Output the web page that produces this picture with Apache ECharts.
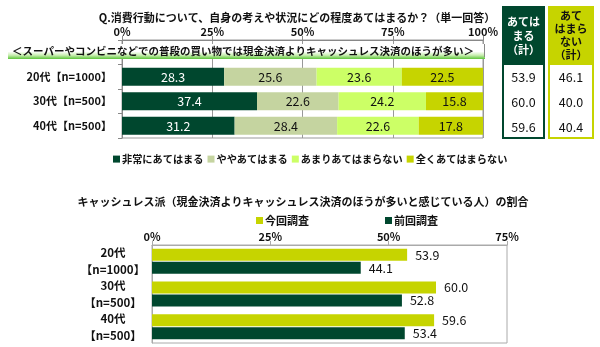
<!DOCTYPE html>
<html><head><meta charset="utf-8">
<script src="https://cdn.jsdelivr.net/npm/echarts@6/dist/echarts.min.js"></script>
<style>html,body{margin:0;padding:0;background:#fff}#c{width:600px;height:347px}</style>
</head><body><div id="c"></div>
<script>
const topCategories = ['', '20代【n=1000】', '30代【n=500】', '40代【n=500】'];
const topSeriesNames = ['非常にあてはまる', 'ややあてはまる', 'あまりあてはまらない', '全くあてはまらない'];
const topVeryMuch = [null, 28.3, 37.4, 31.2];
const topSomewhat = [null, 25.6, 22.6, 28.4];
const topNotMuch = [null, 23.6, 24.2, 22.6];
const topNotAtAll = [null, 22.5, 15.8, 17.8];
const applyTotal = ['53.9', '60.0', '59.6'];
const notApplyTotal = ['46.1', '40.0', '40.4'];
const bottomCategories = ['20代\n【n=1000】', '30代\n【n=500】', '40代\n【n=500】'];
const bottomNames = ['今回調査', '前回調査'];
const bottomCurrent = [53.9, 60.0, 59.6];
const bottomPrevious = [44.1, 52.8, 53.4];

const F = '"Noto Sans CJK JP", sans-serif';
const DG = '#00472e', SAGE = '#c5d4a0', LG = '#ccff66', YG = '#c6d400';
const chart = echarts.init(document.getElementById('c'));

const topData = [topVeryMuch, topSomewhat, topNotMuch, topNotAtAll];
const topColors = [DG, SAGE, LG, YG];
const topSeries = topData.map((d, i) => ({
  name: topSeriesNames[i], type: 'bar', stack: 't', xAxisIndex: 0, yAxisIndex: 0,
  data: d, barWidth: 18, itemStyle: {color: topColors[i]},
  label: {show: true, position: 'inside', fontFamily: F, fontSize: 12.5,
    color: i === 0 ? '#fff' : '#111', formatter: p => p.value.toFixed(1)}
}));

const tableGraphics = [];
tableGraphics.push({type: 'rect', shape: {x: 502, y: 6, width: 43, height: 58}, style: {fill: DG}});
tableGraphics.push({type: 'rect', shape: {x: 503, y: 64, width: 41, height: 74}, style: {fill: '#fff', stroke: DG, lineWidth: 2}});
tableGraphics.push({type: 'text', x: 523.5, y: 36, style: {text: 'あては\nまる\n（計）', fill: '#fff', font: 'bold 11px ' + F, align: 'center', verticalAlign: 'middle', lineHeight: 14}});
tableGraphics.push({type: 'rect', shape: {x: 548, y: 6, width: 46, height: 58}, style: {fill: YG}});
tableGraphics.push({type: 'rect', shape: {x: 549, y: 64, width: 44, height: 74}, style: {fill: '#fff', stroke: YG, lineWidth: 2}});
tableGraphics.push({type: 'text', x: 571, y: 35, style: {text: 'あて\nはまら\nない\n（計）', fill: '#111', font: 'bold 11px ' + F, align: 'center', verticalAlign: 'middle', lineHeight: 13}});
const rowY = [77, 102, 127];
rowY.forEach((y, i) => {
  tableGraphics.push({type: 'text', x: 523.5, y: y, style: {text: applyTotal[i], fill: '#111', font: '12.5px ' + F, align: 'center', verticalAlign: 'middle'}});
  tableGraphics.push({type: 'text', x: 571, y: y, style: {text: notApplyTotal[i], fill: '#111', font: '12.5px ' + F, align: 'center', verticalAlign: 'middle'}});
});

chart.setOption({
  animation: false,
  textStyle: {fontFamily: F},
  title: [
    {text: 'Q.消費行動について、自身の考えや状況にどの程度あてはまるか？（単一回答）', left: 292, top: 7, textAlign: 'center',
      textStyle: {fontFamily: F, fontSize: 11, fontWeight: 'bold', color: '#111'}},
    {text: 'キャッシュレス派（現金決済よりキャッシュレス決済のほうが多いと感じている人）の割合', left: 298, top: 191, textAlign: 'center',
      textStyle: {fontFamily: F, fontSize: 11, fontWeight: 'bold', color: '#111'}}
  ],
  legend: [
    {data: topSeriesNames, left: 108, top: 149, itemWidth: 7, itemHeight: 7, itemGap: 4, icon: 'rect',
      textStyle: {fontFamily: F, fontSize: 10.2, fontWeight: 'bold', color: '#111', padding: [0, 0, 0, -3]}},
    {data: bottomNames, left: 251, top: 210, itemWidth: 7, itemHeight: 7, itemGap: 76, icon: 'rect',
      textStyle: {fontFamily: F, fontSize: 11, fontWeight: 'bold', color: '#111', padding: [0, 0, 0, -3]}}
  ],
  grid: [
    {left: 122, right: 117, top: 40, height: 98, show: true, borderColor: '#999', borderWidth: 1},
    {left: 152, right: 93, top: 245, height: 98, show: true, borderColor: '#aaa', borderWidth: 1}
  ],
  xAxis: [
    {gridIndex: 0, type: 'value', position: 'top', min: 0, max: 100, interval: 25,
      axisLine: {show: true, lineStyle: {color: '#888'}}, axisTick: {show: true, length: 4, lineStyle: {color: '#888'}},
      splitLine: {show: true, lineStyle: {color: '#999'}},
      axisLabel: {formatter: '{value}%', fontFamily: F, fontSize: 11, fontWeight: 'bold', color: '#111', margin: 3}},
    {gridIndex: 1, type: 'value', position: 'top', min: 0, max: 75, interval: 25,
      axisLine: {show: true, lineStyle: {color: '#aaa'}}, axisTick: {show: true, length: 4, lineStyle: {color: '#aaa'}},
      splitLine: {show: false},
      axisLabel: {formatter: '{value}%', fontFamily: F, fontSize: 11, fontWeight: 'bold', color: '#111', margin: 3}}
  ],
  yAxis: [
    {gridIndex: 0, type: 'category', inverse: true, data: topCategories,
      axisLine: {show: true, lineStyle: {color: '#888'}}, axisTick: {show: true, length: 4, lineStyle: {color: '#888'}},
      axisLabel: {interval: 0, fontFamily: F, fontSize: 11, fontWeight: 'bold', color: '#111', margin: 10}},
    {gridIndex: 1, type: 'category', inverse: true, data: bottomCategories,
      axisLine: {show: true, lineStyle: {color: '#aaa'}}, axisTick: {show: false},
      axisLabel: {interval: 0, hideOverlap: false, fontFamily: F, fontSize: 11.5, fontWeight: 'bold', color: '#111', margin: 39, align: 'center', lineHeight: 17}}
  ],
  series: topSeries.concat([
    {name: bottomNames[0], type: 'bar', xAxisIndex: 1, yAxisIndex: 1, data: bottomCurrent, barWidth: 12, barGap: '8%',
      itemStyle: {color: YG}, label: {show: true, position: 'right', distance: 8, fontFamily: F, fontSize: 12.5, color: '#111', formatter: p => p.value.toFixed(1)}},
    {name: bottomNames[1], type: 'bar', xAxisIndex: 1, yAxisIndex: 1, data: bottomPrevious, barWidth: 12, barGap: '8%',
      itemStyle: {color: DG}, label: {show: true, position: 'right', distance: 8, fontFamily: F, fontSize: 12.5, color: '#111', formatter: p => p.value.toFixed(1)}}
  ]),
  graphic: [
    {type: 'rect', z: 100, shape: {x: 8, y: 44, width: 477, height: 15},
      style: {fill: new echarts.graphic.LinearGradient(0, 0, 0, 1, [
        {offset: 0, color: '#ffffff'}, {offset: 0.5, color: '#ffffff'}, {offset: 0.75, color: '#c8eeb0'}, {offset: 1, color: '#5cc43a'}])}},
    {type: 'line', z: 101, shape: {x1: 484.5, y1: 44, x2: 484.5, y2: 57}, style: {stroke: '#888', lineWidth: 1}},
    {type: 'text', z: 102, x: 12, y: 51, style: {text: '＜スーパーやコンビニなどでの普段の買い物では現金決済よりキャッシュレス決済のほうが多い＞',
      fill: '#111', font: 'bold 10.5px ' + F, verticalAlign: 'middle'}}
  ].concat(tableGraphics)
});
</script></body></html>
